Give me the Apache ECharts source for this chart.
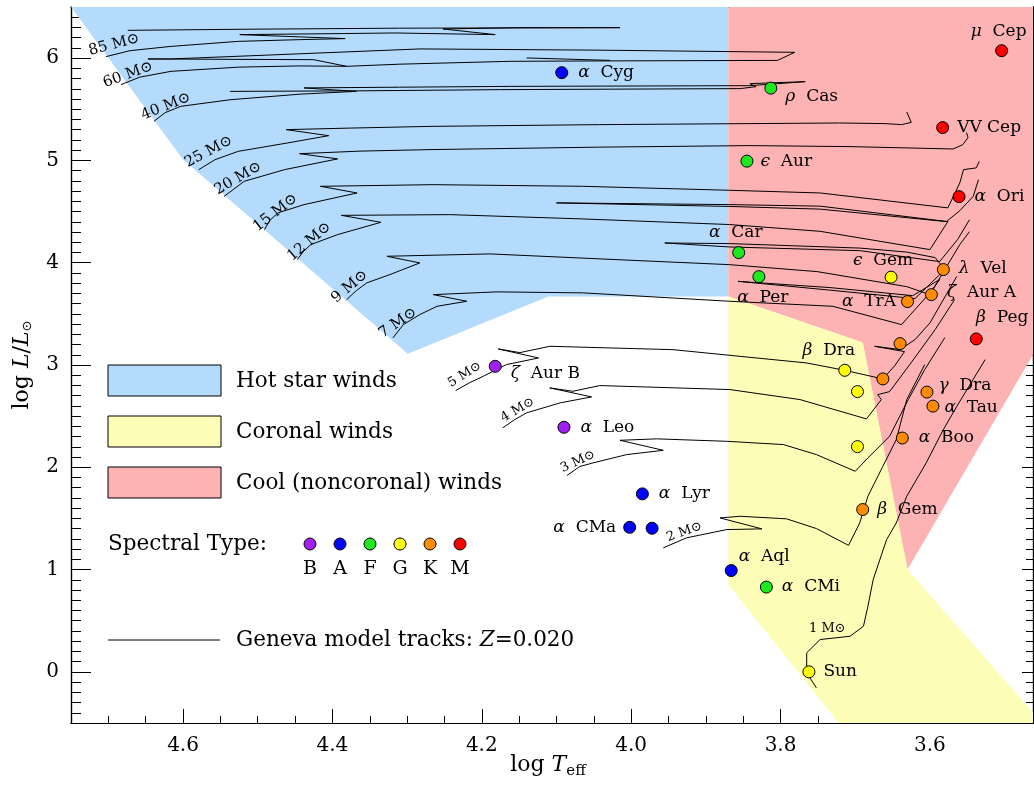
<!DOCTYPE html>
<html>
<head>
<meta charset="utf-8">
<script src="https://cdn.jsdelivr.net/npm/echarts@6/dist/echarts.min.js"></script>
<style>
html,body{margin:0;padding:0;background:#fff;}
#c{width:1034px;height:799px;}
</style>
</head>
<body>
<div id="c"></div>
<script>
// ---- axis extent and ticks ----
const X_MIN = 3.462, X_MAX = 4.75;   // log Teff (drawn hot to cool)
const Y_MIN = -0.5, Y_MAX = 6.5;     // log L/Lsun
const xMajorTicks = [3.6, 3.8, 4.0, 4.2, 4.4, 4.6];
const yMajorTicks = [0, 1, 2, 3, 4, 5, 6];

// ---- wind regions (log Teff, log L) ----
const hotWindRegion = [[4.75,6.5],[3.87,6.5],[3.87,3.67],[4.111,3.67],[4.299,3.11],[4.60,5.01]];
const coolWindRegion = [[3.87,6.5],[3.462,6.5],[3.462,3.10],[3.63,1.0],[3.69,3.22],[3.87,3.67]];
const coronalWindRegion = [[3.87,3.67],[3.69,3.22],[3.63,1.0],[3.462,-0.398],[3.462,-0.5],[3.722,-0.5],[3.87,0.853]];

// ---- Geneva evolutionary tracks, Z = 0.020 ----
const track85 = [[4.703,6.015],[4.671,6.073],[4.616,6.115],[4.526,6.164],[4.443,6.181],[4.383,6.191],[4.524,6.230],[4.403,6.239],[4.316,6.246],[4.182,6.230],[4.252,6.285],[4.149,6.298],[4.015,6.298],[4.310,6.293],[4.510,6.283],[4.674,6.272]];
const track60 = [[4.683,5.741],[4.658,5.814],[4.616,5.871],[4.526,5.912],[4.443,5.924],[4.381,5.920],[4.425,5.985],[4.647,5.992],[4.617,5.992],[4.510,6.023],[4.283,6.090],[4.042,6.078],[3.781,6.057],[3.804,5.978],[4.028,5.973],[4.162,5.969],[4.310,5.941],[4.381,5.920]];
const track60loop = [[4.140,6.002],[4.028,5.978]];
const track40 = [[4.639,5.382],[4.624,5.467],[4.603,5.529],[4.536,5.594],[4.443,5.648],[4.368,5.675],[4.438,5.709],[4.310,5.716],[4.162,5.724],[3.841,5.731],[3.767,5.770],[3.841,5.751],[3.833,5.721],[3.854,5.702],[4.176,5.692],[4.368,5.680],[4.537,5.675]];
const track25 = [[4.579,4.910],[4.557,5.008],[4.526,5.089],[4.460,5.171],[4.405,5.242],[4.462,5.301],[4.377,5.316],[4.268,5.333],[4.042,5.350],[3.721,5.366],[3.660,5.360],[3.638,5.350],[3.625,5.372],[3.631,5.474]];
const track20 = [[4.545,4.649],[4.518,4.796],[4.464,4.910],[4.393,5.015],[4.444,5.066],[4.363,5.091],[4.268,5.106],[4.042,5.130],[3.841,5.145],[3.707,5.135],[3.569,5.112],[3.556,5.154],[3.549,5.223],[3.551,5.272]];
const track15 = [[4.491,4.323],[4.484,4.412],[4.473,4.487],[4.438,4.568],[4.367,4.682],[4.416,4.747],[4.265,4.763],[4.065,4.747],[3.868,4.708],[3.747,4.682],[3.576,4.536],[3.560,4.780],[3.555,4.910],[3.538,4.927],[3.534,4.991]];
const track12 = [[4.447,4.030],[4.439,4.109],[4.429,4.177],[4.393,4.275],[4.335,4.395],[4.388,4.463],[4.243,4.470],[4.065,4.428],[3.868,4.373],[3.747,4.307],[3.600,4.128],[3.576,4.402],[3.747,4.553],[3.868,4.568],[4.100,4.585],[3.868,4.550],[3.747,4.524],[3.578,4.402],[3.560,4.509],[3.542,4.649],[3.535,4.812]];
const track9 = [[4.381,3.639],[4.368,3.727],[4.354,3.803],[4.323,3.884],[4.283,3.998],[4.327,4.063],[4.189,4.086],[4.019,4.030],[3.868,3.981],[3.751,3.913],[3.631,3.766],[3.600,3.688],[3.580,3.933],[3.593,4.050],[3.631,4.104],[3.694,4.143],[3.868,4.187],[3.955,4.193],[3.868,4.154],[3.694,4.118],[3.587,4.011],[3.563,4.226],[3.547,4.421]];
const track7 = [[4.319,3.265],[4.305,3.395],[4.283,3.493],[4.260,3.574],[4.220,3.623],[4.265,3.688],[4.180,3.715],[4.064,3.705],[3.868,3.623],[3.730,3.574],[3.638,3.395],[3.600,3.705],[3.587,3.835],[3.623,3.678],[3.734,3.757],[3.857,3.818],[3.734,3.732],[3.620,3.649],[3.580,3.933],[3.560,4.177],[3.547,4.304]];
const track5 = [[4.235,2.750],[4.216,2.828],[4.198,2.890],[4.167,3.004],[4.124,3.069],[4.178,3.157],[4.149,3.121],[4.109,3.183],[3.944,3.150],[3.765,3.020],[3.714,2.948],[3.663,2.864],[3.647,2.994],[3.634,3.131],[3.674,3.183],[3.640,3.151],[3.620,3.248],[3.600,3.411],[3.564,3.867]];
const track4 = [[4.172,2.385],[4.156,2.466],[4.140,2.532],[4.095,2.630],[4.053,2.688],[4.109,2.776],[4.078,2.743],[4.042,2.799],[3.868,2.760],[3.774,2.662],[3.685,2.473],[3.665,2.662],[3.670,2.710],[3.654,2.740],[3.627,3.004],[3.593,3.346],[3.567,3.639]];
const track3 = [[4.086,1.919],[4.069,2.007],[4.051,2.043],[4.006,2.124],[3.957,2.166],[4.015,2.264],[3.966,2.278],[3.872,2.254],[3.796,2.222],[3.752,2.124],[3.700,1.961],[3.683,2.092],[3.654,2.303],[3.629,2.662],[3.607,2.955],[3.580,3.268]];
const track2 = [[3.957,1.212],[3.926,1.310],[3.872,1.391],[3.825,1.398],[3.881,1.505],[3.854,1.521],[3.792,1.496],[3.752,1.401],[3.709,1.237],[3.694,1.456],[3.683,1.717],[3.663,2.010],[3.645,2.271],[3.631,2.662],[3.607,3.004]];
const track1 = [[3.752,-0.156],[3.765,-0.010],[3.765,0.186],[3.747,0.316],[3.707,0.348],[3.689,0.446],[3.683,0.641],[3.676,0.902],[3.658,1.293],[3.645,1.456],[3.631,1.717],[3.605,2.043],[3.582,2.369],[3.564,2.596],[3.526,3.053]];

const trackMasses = ['85','60','40','25','20','15','12','9','7','5','4','3','2','1'];
const tracks = [track85,track60,track40,track25,track20,track15,track12,track9,track7,track5,track4,track3,track2,track1];
const extraTrackPieces = [track60loop];

// ---- stars ----
const starNames = ['μ Cep','α Cyg','ρ Cas','VV Cep','ϵ Aur','α Ori','α Car','α Per','ϵ Gem','λ Vel','α TrA','ζ Aur A','β Peg','','β Dra','','','γ Dra','α Tau','α Boo','','β Gem','α Aql','α CMi','Sun','α Lyr','α CMa','','α Leo','ζ Aur B'];
const starTypes = ['M','A','F','M','F','M','F','F','G','K','K','K','M','K','G','K','G','K','K','K','G','K','A','F','G','A','A','A','B','B'];
const starLogT = [3.504,4.093,3.813,3.583,3.845,3.561,3.856,3.829,3.652,3.582,3.630,3.598,3.538,3.640,3.714,3.663,3.697,3.604,3.596,3.637,3.697,3.690,3.866,3.819,3.762,3.985,4.002,3.972,4.090,4.182];
const starLogL = [6.073,5.858,5.707,5.321,4.993,4.646,4.099,3.864,3.859,3.933,3.620,3.688,3.255,3.209,2.948,2.864,2.740,2.735,2.598,2.286,2.202,1.587,0.990,0.829,0.000,1.740,1.413,1.404,2.391,2.987];

// ---- spectral classes ----
const spectralTypes = ['B','A','F','G','K','M'];
const spectralColors = {B:'#a020f0', A:'#0000ff', F:'#1ee81e', G:'#ffff00', K:'#ff8c00', M:'#ff0000'};

// ---- styling ----
const SERIF = '"DejaVu Serif", serif';
const regionColors = ['#b4dafc', '#fdb3b3', '#fdfdb8'];
// label side, distance from dot, nudge
const starLabelPlacement = [
  ['top',4,[-3,0]],['right',10,[0,0]],['right',8,[0,8]],['right',8,[0,0]],['right',7,[0,0]],
  ['right',9,[0,0]],['top',5,[-3,0]],['bottom',6,[4,0]],['top',2,[-8,0]],['right',9,[0,-1]],
  ['left',5,[0,0]],['right',9,[0,-2]],['top',6,[26,0]],['right',5,[0,0]],['top',5,[-16,0]],
  ['right',5,[0,0]],['right',5,[0,0]],['right',5,[0,-7]],['right',5,[0,1]],['right',10,[0,0]],
  ['right',5,[0,0]],['right',8,[0,0]],['right',1,[0,-14]],['right',9,[0,0]],['right',8,[0,0]],
  ['right',10,[0,0]],['left',7,[0,0]],['right',5,[0,0]],['right',10,[0,0]],['right',9,[0,7]]
];
// mass label: dx, dy (px from track start), rotation (deg), font size
const massLabelStyle = [
  [8,-12,15,15],[7,-10,20,15],[12,-15,22,15],[10,-18,28,15],[14,-18,30,15],[11,-17,38,15],[12,-18,40,15],
  [3,-13,40,15],[5,-15,35,15],[9,-16,32,13],[15,-18,30,13],[11,-14,25,13],[21,-16,20,13],[11,-59,0,13]
];

function range(a, b, step) {
  const out = [];
  for (let i = 0; a + i * step <= b + 1e-9; i++) out.push(+(a + i * step).toFixed(3));
  return out;
}
const xMinorTicks = range(3.5, 4.75, 0.05).filter(v => v >= X_MIN && v <= X_MAX);
const yMinorTicks = range(-0.5, 6.5, 0.1);

function xAxisDef(position, ticks, len, labels) {
  return {
    type: 'value', position: position, min: X_MIN, max: X_MAX, inverse: true,
    axisLine: {show: true, onZero: false, lineStyle: {color: '#000', width: 1.2}},
    axisTick: {show: true, inside: true, length: len, customValues: ticks, lineStyle: {color: '#000', width: 1}},
    axisLabel: labels ? {show: true, customValues: ticks, formatter: v => v.toFixed(1), margin: 13,
      color: '#000', fontFamily: SERIF, fontSize: 20} : {show: false},
    splitLine: {show: false}, minorTick: {show: false}
  };
}
function yAxisDef(position, ticks, len, labels) {
  return {
    type: 'value', position: position, min: Y_MIN, max: Y_MAX,
    axisLine: {show: true, onZero: false, lineStyle: {color: '#000', width: 1.2}},
    axisTick: {show: true, inside: true, length: len, customValues: ticks, lineStyle: {color: '#000', width: 1}},
    axisLabel: labels ? {show: true, customValues: ticks, formatter: v => String(Math.round(v)), margin: 12,
      color: '#000', fontFamily: SERIF, fontSize: 20} : {show: false},
    splitLine: {show: false}, minorTick: {show: false}
  };
}

const series = [];
// filled wind regions
const regions = [hotWindRegion, coolWindRegion, coronalWindRegion];
series.push({
  type: 'custom', silent: true, z: 1,
  data: regions.map((r, i) => [r[0][0], r[0][1], i]),
  encode: {x: 0, y: 1},
  renderItem: function (params, api) {
    const idx = api.value(2);
    const pts = regions[idx].map(p => api.coord(p));
    return {type: 'polygon', shape: {points: pts}, style: {fill: regionColors[idx], stroke: null}};
  }
});
// tracks
tracks.concat(extraTrackPieces).forEach(t => {
  series.push({
    type: 'line', data: t, showSymbol: false, symbol: 'none', silent: true, z: 3,
    lineStyle: {color: '#000', width: 1}, animation: false
  });
});
// stars
function starLabelText(name) {
  if (!name) return '';
  const c = name.charCodeAt(0);
  if (c >= 0x0370 && c <= 0x03FF) return '{g|' + name[0] + '}' + name.slice(1).replace(' ', '  ');
  return name;
}
series.push({
  type: 'scatter', z: 5, symbol: 'circle', symbolSize: 12, animation: false,
  itemStyle: {borderColor: '#000', borderWidth: 1, opacity: 1},
  data: starLogT.map((t, i) => {
    const pl = starLabelPlacement[i];
    return {
      value: [t, starLogL[i]],
      itemStyle: {color: spectralColors[starTypes[i]]},
      label: {
        show: !!starNames[i], position: pl[0], distance: pl[1], offset: pl[2],
        formatter: starLabelText(starNames[i]),
        color: '#000', fontFamily: SERIF, fontSize: 17,
        rich: {g: {fontFamily: SERIF, fontStyle: 'italic', fontSize: 17, color: '#000'}}
      }
    };
  })
});

const option = {
  animation: false,
  backgroundColor: '#fff',
  grid: {left: 71, right: 1, top: 7, bottom: 76, containLabel: false},
  xAxis: [
    xAxisDef('bottom', xMajorTicks, 14, true),
    xAxisDef('bottom', xMinorTicks, 7, false),
    xAxisDef('top', xMajorTicks, 13, false),
    xAxisDef('top', xMinorTicks, 7, false)
  ],
  yAxis: [
    yAxisDef('left', yMajorTicks, 20, true),
    yAxisDef('left', yMinorTicks, 10, false),
    yAxisDef('right', yMajorTicks, 11, false),
    yAxisDef('right', yMinorTicks, 7, false)
  ],
  series: series
};

const chart = echarts.init(document.getElementById('c'), null, {renderer: 'canvas'});
chart.setOption(option);

// ---- legend, axis titles and mass labels ----
const g = [];
function txt(x, y, text, size, opts) {
  const o = Object.assign({align: 'left', verticalAlign: 'middle'}, opts || {});
  const el = {
    type: 'text', x: x, y: y, z: 20,
    style: {text: text, fontFamily: SERIF, fontSize: size, fill: '#000',
      align: o.align, textAlign: o.align, verticalAlign: o.verticalAlign, textVerticalAlign: o.verticalAlign}
  };
  if (o.rich) el.style.rich = o.rich;
  if (o.rotation) el.rotation = o.rotation;
  return el;
}
const LEGEND_FONT = 21.5;
const legendNames = ['Hot star winds', 'Coronal winds', 'Cool (noncoronal) winds'];
const legendFills = [regionColors[0], regionColors[2], regionColors[1]];
legendNames.forEach((n, i) => {
  const y = 365 + i * 51;
  g.push({type: 'rect', z: 20, shape: {x: 108, y: y, width: 113, height: 31},
    style: {fill: legendFills[i], stroke: '#000', lineWidth: 1}});
  g.push(txt(236, y + 16, n, LEGEND_FONT));
});
g.push(txt(108, 544, 'Spectral Type:', LEGEND_FONT));
spectralTypes.forEach((s, i) => {
  const x = 310 + i * 30;
  g.push({type: 'circle', z: 20, shape: {cx: x, cy: 544, r: 6},
    style: {fill: spectralColors[s], stroke: '#000', lineWidth: 1}});
  g.push(txt(x, 569, s, 19, {align: 'center'}));
});
g.push({type: 'line', z: 20, shape: {x1: 108, y1: 640, x2: 220, y2: 640}, style: {stroke: '#000', lineWidth: 1}});
g.push(txt(236, 640, 'Geneva model tracks: {i|Z}=0.020', LEGEND_FONT,
  {rich: {i: {fontFamily: SERIF, fontStyle: 'italic', fontSize: LEGEND_FONT}}}));

// axis titles
g.push(txt(548, 765, '{n|log} {i|T}{s|eff}', 22, {align: 'center', rich: {
  n: {fontFamily: SERIF, fontSize: 22},
  i: {fontFamily: SERIF, fontStyle: 'italic', fontSize: 22},
  s: {fontFamily: SERIF, fontSize: 15, padding: [12, 0, 0, 0]}
}}));
g.push(txt(22, 365, '{n|log} {i|L}/{i|L}{s|⊙}', 22, {align: 'center', rotation: Math.PI / 2, rich: {
  n: {fontFamily: SERIF, fontSize: 22},
  i: {fontFamily: SERIF, fontStyle: 'italic', fontSize: 22},
  s: {fontFamily: 'DejaVu Sans', fontSize: 13, padding: [12, 0, 0, 0]}
}}));

// mass labels at the start of each track
tracks.forEach((t, i) => {
  const p = chart.convertToPixel({xAxisIndex: 0, yAxisIndex: 0}, t[0]);
  const s = massLabelStyle[i];
  g.push(txt(p[0] + s[0], p[1] + s[1], trackMasses[i] + ' M\u2299', s[3],
    {align: 'center', rotation: s[2] * Math.PI / 180}));
});
chart.setOption({graphic: {elements: g}});
</script>
</body>
</html>
